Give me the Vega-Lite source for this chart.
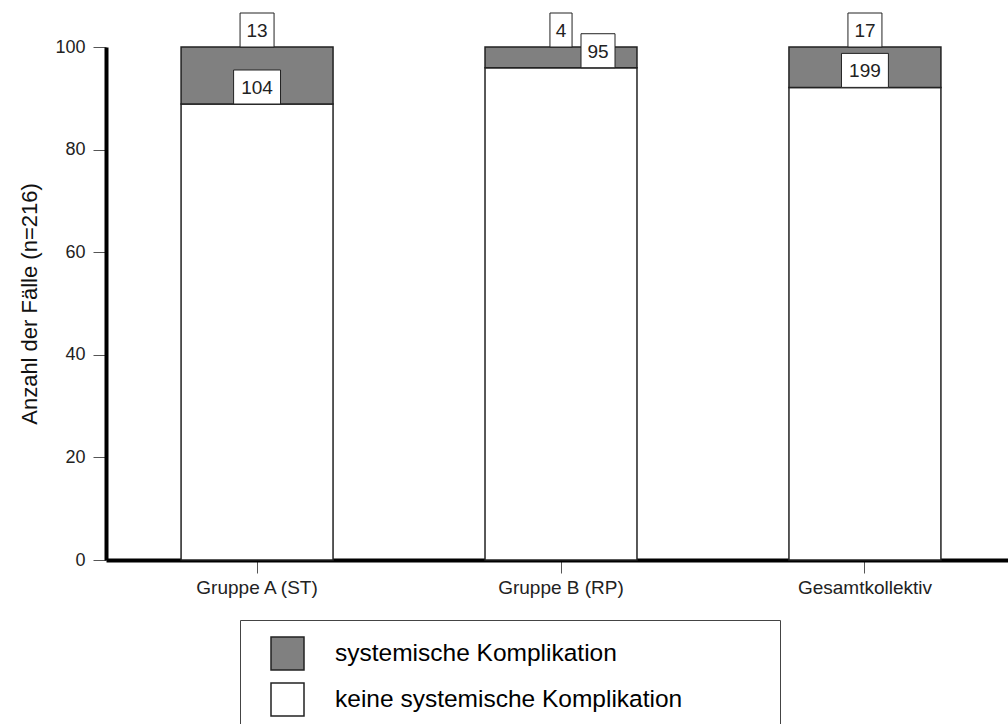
{
  "$schema": "https://vega.github.io/schema/vega-lite/v6.json",
  "autosize": "none",
  "width": 902,
  "height": 513,
  "padding": {"left": 106, "top": 47, "right": 0, "bottom": 164},
  "background": "white",
  "config": {
    "view": {"stroke": null},
    "font": "Liberation Sans",
    "axis": {"labelFont": "Liberation Sans", "titleFont": "Liberation Sans"}
  },
  "resolve": {"axis": {"y": "independent"}},
  "data": {
    "values": [
      {"gruppe": "Gruppe A (ST)", "kat": "keine systemische Komplikation", "n": 104},
      {"gruppe": "Gruppe A (ST)", "kat": "systemische Komplikation", "n": 13},
      {"gruppe": "Gruppe B (RP)", "kat": "keine systemische Komplikation", "n": 95},
      {"gruppe": "Gruppe B (RP)", "kat": "systemische Komplikation", "n": 4},
      {"gruppe": "Gesamtkollektiv", "kat": "keine systemische Komplikation", "n": 199},
      {"gruppe": "Gesamtkollektiv", "kat": "systemische Komplikation", "n": 17}
    ]
  },
  "encoding": {
    "x": {
      "field": "gruppe",
      "type": "nominal",
      "sort": null,
      "scale": {"paddingInner": 0.5, "paddingOuter": 0.247, "range": [0, 910]},
      "axis": {
        "title": null,
        "labelAngle": 0,
        "labelFontSize": 19,
        "labelColor": "#222",
        "labelPadding": 5,
        "domainColor": "black",
        "domainWidth": 4,
        "tickColor": "#555",
        "tickWidth": 1,
        "tickSize": 13
      }
    }
  },
  "layer": [
    {
      "mark": {"type": "bar", "stroke": "#222", "strokeWidth": 1.5},
      "encoding": {
        "y": {
          "field": "n",
          "type": "quantitative",
          "stack": "normalize",
          "scale": {"domain": [0, 1], "nice": false},
          "axis": {
            "title": "Anzahl der Fälle (n=216)",
            "titleFontSize": 22,
            "titleFontWeight": "normal",
            "titleColor": "#111",
            "titlePadding": 13,
            "values": [0, 0.2, 0.4, 0.6, 0.8, 1],
            "labelExpr": "round(datum.value * 100)",
            "labelFontSize": 18,
            "labelColor": "#222",
            "labelPadding": 8,
            "grid": false,
            "domainColor": "black",
            "domainWidth": 4,
            "tickColor": "#555",
            "tickWidth": 1,
            "tickSize": 13
          }
        },
        "fill": {
          "field": "kat",
          "type": "nominal",
          "scale": {
            "domain": ["systemische Komplikation", "keine systemische Komplikation"],
            "range": ["#808080", "#ffffff"]
          },
          "legend": {
            "title": null,
            "orient": "none",
            "legendX": 134,
            "legendY": 573,
            "padding": 16,
            "symbolOffset": 14,
            "symbolType": "square",
            "symbolSize": 1089,
            "symbolStrokeColor": "#222",
            "symbolStrokeWidth": 1.5,
            "labelFont": "Liberation Sans",
            "labelFontSize": 24.5,
            "labelColor": "black",
            "labelOffset": 30,
            "labelLimit": 800,
            "rowPadding": 7,
            "strokeColor": "#444",
            "fillColor": "white",
            "labelExpr": "datum.label + '\u00a0\u00a0\u00a0\u00a0\u00a0\u00a0\u00a0\u00a0\u00a0\u00a0\u00a0\u00a0\u2060'"
          }
        },
        "order": {"field": "kat", "sort": "ascending"}
      }
    },
    {
      "transform": [
        {"joinaggregate": [{"op": "sum", "field": "n", "as": "total"}], "groupby": ["gruppe"]},
        {"calculate": "datum.kat == 'systemische Komplikation' ? 1 : datum.n / datum.total", "as": "yLab"},
        {"calculate": "length(toString(datum.n))", "as": "len"},
        {"filter": "datum.n != 95"}
      ],
      "encoding": {
        "y": {"field": "yLab", "type": "quantitative", "axis": null}
      },
      "layer": [
        {
          "mark": {"type": "point", "filled": true, "fill": "white", "stroke": "#222", "strokeWidth": 1, "opacity": 1, "size": 1156},
          "encoding": {
            "shape": {
              "field": "len",
              "type": "nominal",
              "scale": {
                "domain": [1, 2, 3],
                "range": ["M-0.65,-2H0.65V0H-0.65Z", "M-1,-2H1V0H-1Z", "M-1.38,-2H1.38V0H-1.38Z"]
              },
              "legend": null
            }
          }
        },
        {
          "mark": {"type": "text", "fontSize": 19, "dy": -16, "baseline": "middle", "color": "#222", "font": "Liberation Sans"},
          "encoding": {"text": {"field": "n", "type": "quantitative"}}
        }
      ]
    },
    {
      "transform": [
        {"joinaggregate": [{"op": "sum", "field": "n", "as": "total"}], "groupby": ["gruppe"]},
        {"calculate": "datum.kat == 'systemische Komplikation' ? 1 : datum.n / datum.total", "as": "yLab"},
        {"calculate": "length(toString(datum.n))", "as": "len"},
        {"filter": "datum.n == 95"}
      ],
      "encoding": {
        "y": {"field": "yLab", "type": "quantitative", "axis": null}
      },
      "layer": [
        {
          "mark": {"type": "point", "filled": true, "fill": "white", "stroke": "#222", "strokeWidth": 1, "opacity": 1, "size": 1156, "xOffset": 37},
          "encoding": {
            "shape": {
              "field": "len",
              "type": "nominal",
              "scale": {
                "domain": [1, 2, 3],
                "range": ["M-0.65,-2H0.65V0H-0.65Z", "M-1,-2H1V0H-1Z", "M-1.38,-2H1.38V0H-1.38Z"]
              },
              "legend": null
            }
          }
        },
        {
          "mark": {"type": "text", "fontSize": 19, "dy": -16, "dx": 37, "baseline": "middle", "color": "#222", "font": "Liberation Sans"},
          "encoding": {"text": {"field": "n", "type": "quantitative"}}
        }
      ]
    }
  ]
}
